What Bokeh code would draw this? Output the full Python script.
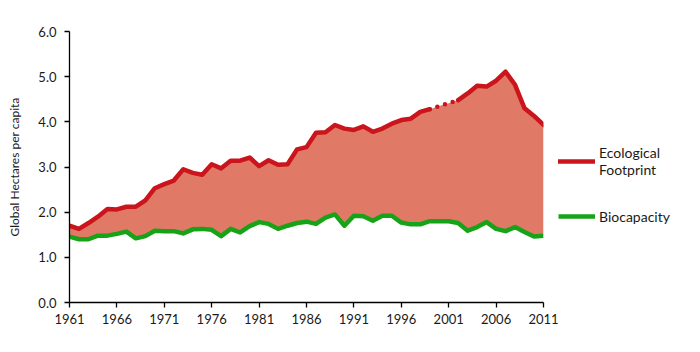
from bokeh.plotting import figure
from bokeh.models import Range1d, FixedTicker, Legend, LegendItem, NumeralTickFormatter, ColumnDataSource
from bokeh.embed import file_html
from bokeh.resources import INLINE

years = list(range(1961, 2012))
eco = [1.70, 1.63, 1.76, 1.90, 2.07, 2.06, 2.12, 2.12, 2.26, 2.53,
       2.62, 2.70, 2.95, 2.87, 2.83, 3.06, 2.97, 3.14, 3.14, 3.21,
       3.02, 3.15, 3.05, 3.06, 3.39, 3.44, 3.76, 3.77, 3.93, 3.85,
       3.82, 3.90, 3.78, 3.85, 3.96, 4.04, 4.07, 4.22, 4.28, 4.35,
       4.41, 4.48, 4.63, 4.80, 4.78, 4.91, 5.11, 4.82, 4.30, 4.13, 3.93]
bio = [1.46, 1.40, 1.40, 1.48, 1.48, 1.52, 1.57, 1.42, 1.47, 1.59,
       1.58, 1.58, 1.53, 1.62, 1.63, 1.61, 1.47, 1.63, 1.55, 1.69,
       1.78, 1.74, 1.63, 1.70, 1.76, 1.79, 1.74, 1.88, 1.95, 1.70,
       1.92, 1.91, 1.81, 1.92, 1.92, 1.77, 1.73, 1.73, 1.80, 1.80,
       1.80, 1.76, 1.59, 1.67, 1.78, 1.63, 1.58, 1.67, 1.56, 1.46, 1.48]
x_ticks = [1961, 1966, 1971, 1976, 1981, 1986, 1991, 1996, 2001, 2006, 2011]
y_ticks = [0, 1, 2, 3, 4, 5, 6]
estimated_from = 1999
estimated_to = 2002

RED = "#CB141B"
GREEN = "#17A317"
FILL = "#E07966"
FONT = "Lato"

p = figure(frame_width=474, frame_height=271, output_backend="svg", toolbar_location=None,
           x_range=Range1d(1961, 2011), y_range=Range1d(0, 6),
           min_border_left=69, min_border_right=0, min_border_top=31, min_border_bottom=50)
p.outline_line_color = None
p.xgrid.visible = False
p.ygrid.visible = False

src = ColumnDataSource(dict(x=years, eco=eco, bio=bio))
p.varea(x="x", y1="bio", y2="eco", source=src, fill_color=FILL)

i0 = years.index(estimated_from)
i1 = years.index(estimated_to)
red1 = p.line(years[:i0 + 1], eco[:i0 + 1], line_color=RED, line_width=4.5, line_join="round", line_cap="round")
p.line(years[i0:i1 + 1], eco[i0:i1 + 1], line_color=RED, line_width=4.5, line_dash="0 8", line_cap="round")
p.line(years[i1:], eco[i1:], line_color=RED, line_width=4.5, line_join="round", line_cap="round")
green = p.line("x", "bio", source=src, line_color=GREEN, line_width=4.5, line_join="round")

for ax in (p.xaxis[0], p.yaxis[0]):
    ax.axis_line_color = "black"
    ax.axis_line_width = 1.3
    ax.major_tick_line_color = "black"
    ax.major_tick_line_width = 1.3
    ax.major_tick_in = 0
    ax.major_tick_out = 5
    ax.minor_tick_line_color = None
    ax.major_label_text_font = FONT
    ax.major_label_text_font_size = "13px"
    ax.major_label_text_color = "#1a1a1a"

p.xaxis.ticker = FixedTicker(ticks=x_ticks)
p.xaxis.major_label_standoff = 6
p.yaxis.ticker = FixedTicker(ticks=y_ticks)
p.yaxis.formatter = NumeralTickFormatter(format="0.0")
p.yaxis.major_label_standoff = 8
p.yaxis.axis_label = "Global Hectares per capita"
p.yaxis.axis_label_text_font = FONT
p.yaxis.axis_label_text_font_size = "12px"
p.yaxis.axis_label_text_font_style = "normal"
p.yaxis.axis_label_text_color = "#1a1a1a"
p.yaxis.axis_label_standoff = 13

legend = Legend(items=[LegendItem(label="Ecological\nFootprint", renderers=[red1]),
                       LegendItem(label="Biocapacity", renderers=[green])],
                location=(15, 76))
legend.border_line_color = None
legend.background_fill_alpha = 0
legend.padding = 0
legend.margin = 0
legend.spacing = 28
legend.glyph_width = 37
legend.glyph_height = 20
legend.label_standoff = 4
legend.label_text_font = FONT
legend.label_text_font_size = "14px"
legend.label_text_color = "#1a1a1a"
p.add_layout(legend, "right")

open("out.html", "w").write(file_html(p, INLINE))
